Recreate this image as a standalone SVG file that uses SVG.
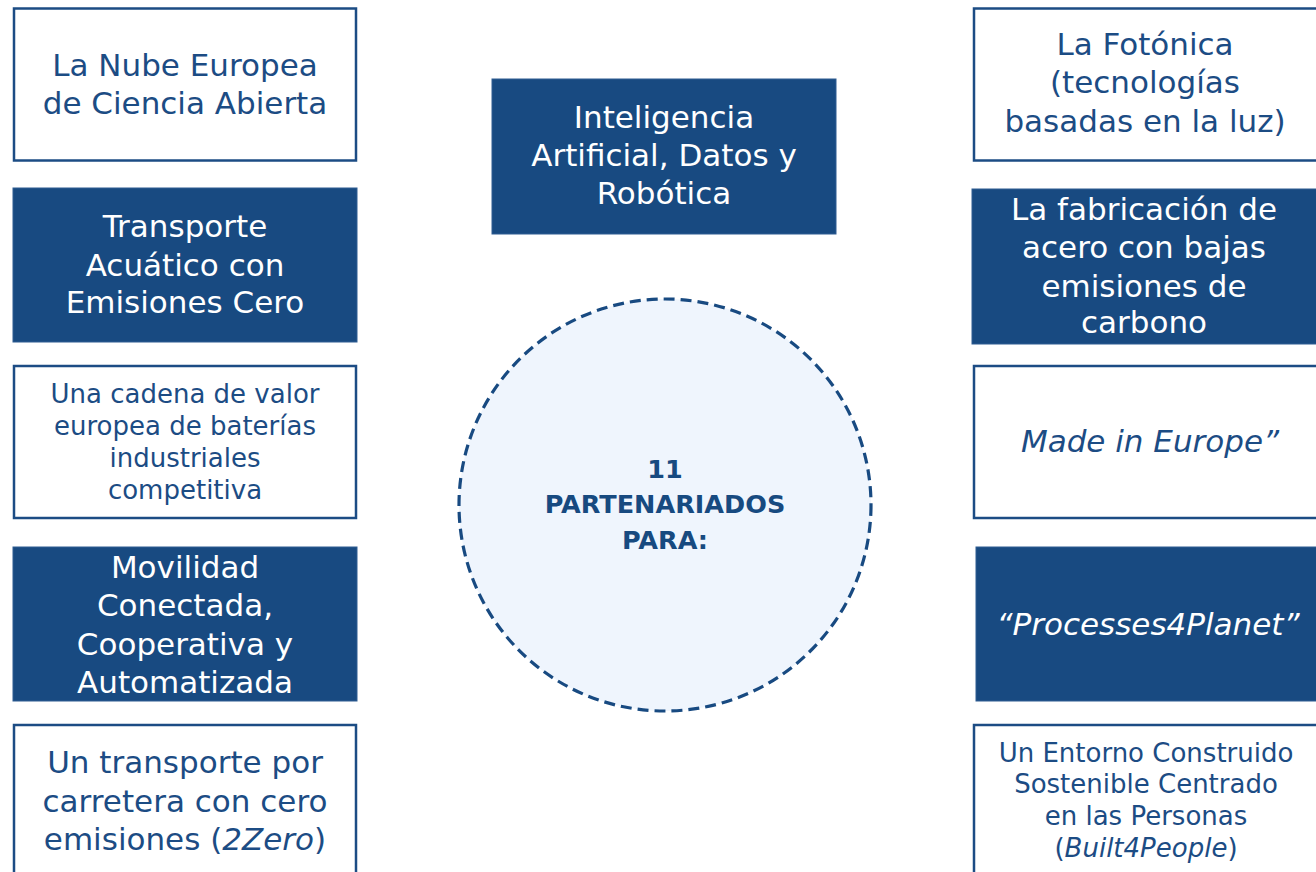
<svg xmlns="http://www.w3.org/2000/svg" width="1316" height="872" viewBox="0 0 1316 872">
<style>
.wb{fill:#ffffff;stroke:#1c4c84;stroke-width:2.5}
.db{fill:#184a81;stroke:#2f5d92;stroke-width:1}
text{font-family:"DejaVu Sans","Open Sans",sans-serif;text-anchor:middle}
.t{font-size:31px}
.s{font-size:26px}
.dk{fill:#1c4c84}
.lt{fill:#ffffff}
.c{font-size:25.5px;font-weight:bold;fill:#174a80}
</style>
<rect width="1316" height="872" fill="#ffffff"/>
<g id="connectors"></g>
<g id="center-circle">
<circle cx="665" cy="505" r="206" fill="#eff5fd" stroke="#184a81" stroke-width="3.2" stroke-dasharray="11 6"/>
<text class="c" x="665" y="478">11</text>
<text class="c" x="665" y="513">PARTENARIADOS</text>
<text class="c" x="665" y="549">PARA:</text>
</g>
<g id="n-ia">
<rect class="db" x="492" y="79" width="344" height="155"/>
<text class="t lt" x="664" y="128">Inteligencia</text>
<text class="t lt" x="664" y="166">Artificial, Datos y</text>
<text class="t lt" x="664" y="204">Robótica</text>
</g>
<g id="n-nube">
<rect class="wb" x="14" y="8.5" width="342" height="152"/>
<text class="t dk" x="185" y="76">La Nube Europea</text>
<text class="t dk" x="185" y="114">de Ciencia Abierta</text>
</g>
<g id="n-transporte">
<rect class="db" x="13" y="188" width="344" height="154"/>
<text class="t lt" x="185" y="237">Transporte</text>
<text class="t lt" x="185" y="276">Acuático con</text>
<text class="t lt" x="185" y="313">Emisiones Cero</text>
</g>
<g id="n-baterias">
<rect class="wb" x="14" y="366" width="342" height="152"/>
<text class="s dk" x="185" y="403">Una cadena de valor</text>
<text class="s dk" x="185" y="435">europea de baterías</text>
<text class="s dk" x="185" y="467">industriales</text>
<text class="s dk" x="185" y="499">competitiva</text>
</g>
<g id="n-movilidad">
<rect class="db" x="13" y="547" width="344" height="154"/>
<text class="t lt" x="185" y="578">Movilidad</text>
<text class="t lt" x="185" y="616">Conectada,</text>
<text class="t lt" x="185" y="655">Cooperativa y</text>
<text class="t lt" x="185" y="693">Automatizada</text>
</g>
<g id="n-2zero">
<rect class="wb" x="14" y="725" width="342" height="160"/>
<text class="t dk" x="185" y="773">Un transporte por</text>
<text class="t dk" x="185" y="812">carretera con cero</text>
<text class="t dk" x="185" y="850">emisiones (<tspan font-style="italic">2Zero</tspan>)</text>
</g>
<g id="n-fotonica">
<rect class="wb" x="974" y="8.5" width="350" height="152"/>
<text class="t dk" x="1145" y="55">La Fotónica</text>
<text class="t dk" x="1145" y="93">(tecnologías</text>
<text class="t dk" x="1145" y="132">basadas en la luz)</text>
</g>
<g id="n-acero">
<rect class="db" x="972" y="189" width="350" height="155"/>
<text class="t lt" x="1144" y="220">La fabricación de</text>
<text class="t lt" x="1144" y="258">acero con bajas</text>
<text class="t lt" x="1144" y="297">emisiones de</text>
<text class="t lt" x="1144" y="333">carbono</text>
</g>
<g id="n-europe">
<rect class="wb" x="974" y="366" width="350" height="152"/>
<text class="t dk" x="1150" y="452" font-style="italic">Made in Europe”</text>
</g>
<g id="n-processes">
<rect class="db" x="976" y="547" width="350" height="154"/>
<text class="t lt" x="1148" y="635" font-style="italic">“Processes4Planet”</text>
</g>
<g id="n-built">
<rect class="wb" x="974" y="725" width="350" height="160"/>
<text class="s dk" x="1146" y="762">Un Entorno Construido</text>
<text class="s dk" x="1146" y="793">Sostenible Centrado</text>
<text class="s dk" x="1146" y="825">en las Personas</text>
<text class="s dk" x="1146" y="857">(<tspan font-style="italic">Built4People</tspan>)</text>
</g>
</svg>
